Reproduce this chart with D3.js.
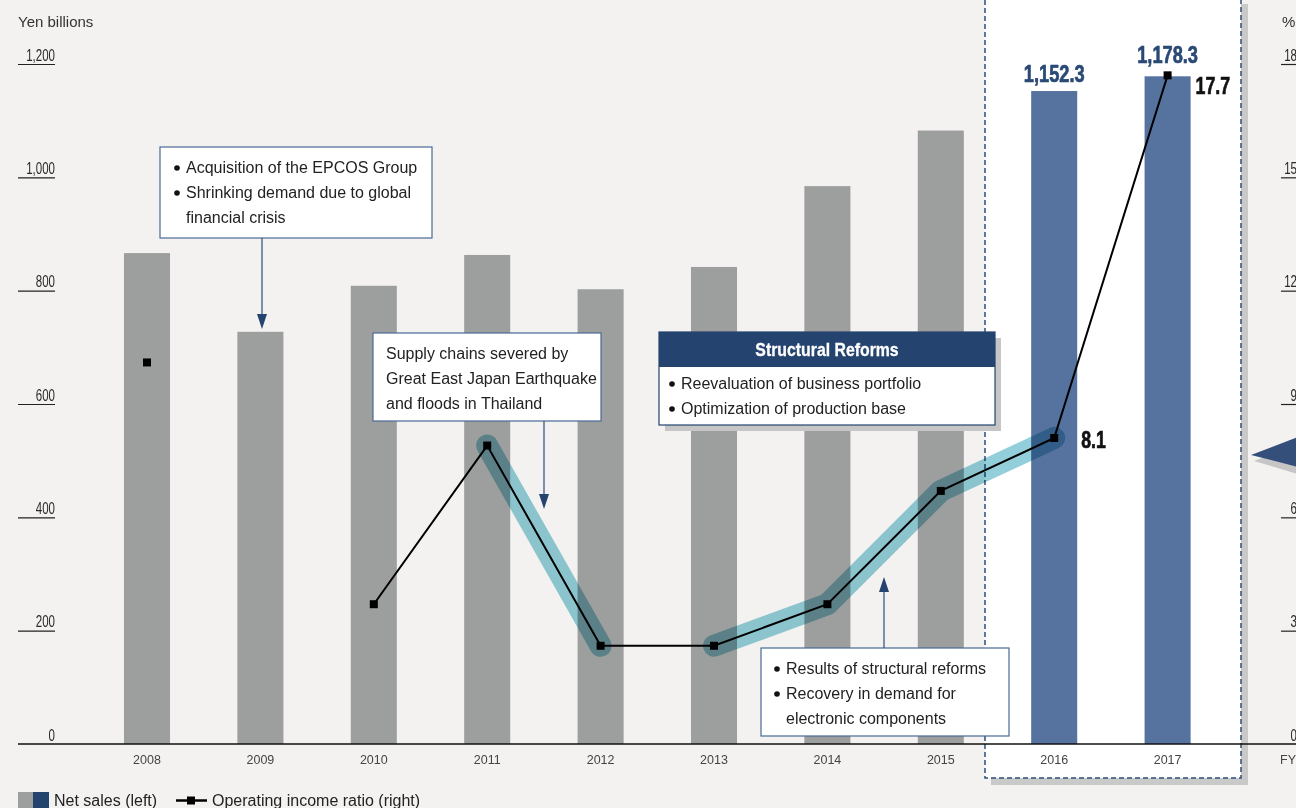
<!DOCTYPE html>
<html><head><meta charset="utf-8">
<script src="https://cdn.jsdelivr.net/npm/d3@7"></script>
<style>
html,body{margin:0;padding:0;background:#f3f2f0;}
svg{display:block;}
text{font-family:"Liberation Sans",Arial,sans-serif;}
</style></head>
<body>
<svg id="chart" width="1296" height="808"></svg>
<script>
// ---- data ----
const years = ["2008","2009","2010","2011","2012","2013","2014","2015","2016","2017"];
const netSales = [866.3, 727.4, 808.6, 863.0, 802.5, 841.8, 984.5, 1082.6, 1152.3, 1178.3];
const opRatio = [10.1, null, 3.7, 7.9, 2.6, 2.6, 3.7, 6.7, 8.1, 17.7];
const highlightedYears = ["2016","2017"];
const salesLabels = [{year:"2016", text:"1,152.3"}, {year:"2017", text:"1,178.3"}];
const ratioLabels = [{year:"2016", text:"8.1"}, {year:"2017", text:"17.7"}];
const trendA = ["2011","2012"];
const trendB = ["2013","2014","2015","2016"];
const leftTicks = [0,200,400,600,800,1000,1200];
const rightTicks = [0,3,6,9,12,15,18];

const svg = d3.select("#chart");
const W = 1296, H = 808;
svg.append("rect").attr("width",W).attr("height",H).attr("fill","#f3f2f0");

const x = d3.scaleBand().domain(years).range([90.3,1224.3]).paddingInner(0.594).paddingOuter(0.297);
const yL = d3.scaleLinear().domain([0,1200]).range([744,64]);
const yR = d3.scaleLinear().domain([0,18]).range([744,64]);
const cx = y => x(y) + x.bandwidth()/2;
const ratioOf = y => opRatio[years.indexOf(y)];

// ---- highlighted FY2016-2017 panel ----
const hx0 = 985, hx1 = 1241, hy1 = 778;
svg.append("rect").attr("x",hx1).attr("y",4).attr("width",7).attr("height",hy1+7-4).attr("fill","#c9c9c9");
svg.append("rect").attr("x",hx0+6).attr("y",hy1).attr("width",hx1-hx0+1).attr("height",7).attr("fill","#c9c9c9");
svg.append("rect").attr("x",hx0).attr("y",-5).attr("width",hx1-hx0).attr("height",hy1+5).attr("fill","#ffffff");
svg.append("path").attr("d",`M${hx0},0V${hy1}H${hx1}V0`).attr("fill","none")
  .attr("stroke","#2c4f7c").attr("stroke-width",1.5).attr("stroke-dasharray","5,3");

// ---- left axis ----
const axL = d3.axisRight(yL).tickValues(leftTicks).tickSize(37).tickFormat(d3.format(","));
const gL = svg.append("g").attr("transform","translate(18,0)").call(axL);
gL.select(".domain").remove();
gL.selectAll(".tick line").attr("stroke","#222").attr("stroke-width",1.2);
gL.selectAll(".tick text").attr("x",0).attr("dy",0).attr("text-anchor","end")
  .attr("transform","translate(37,-4) scale(0.72,1)")
  .attr("font-size",16).attr("fill","#2a2a2a");
gL.selectAll(".tick").filter(d=>d===0).select("line").remove();

// ---- right axis ----
const axR = d3.axisLeft(yR).tickValues(rightTicks).tickSize(19);
const gR = svg.append("g").attr("transform","translate(1300,0)").call(axR);
gR.select(".domain").remove();
gR.selectAll(".tick line").attr("stroke","#222").attr("stroke-width",1.2);
gR.selectAll(".tick text").attr("x",0).attr("dy",0).attr("text-anchor","end")
  .attr("transform","translate(-3,-4) scale(0.72,1)")
  .attr("font-size",16).attr("fill","#2a2a2a");
gR.selectAll(".tick").filter(d=>d===0).select("line").remove();

svg.append("text").attr("x",18).attr("y",27).attr("font-size",15).attr("fill","#333").text("Yen billions");
svg.append("text").attr("x",1282).attr("y",27).attr("font-size",15).attr("fill","#333").text("%");

// ---- bars ----
svg.append("g").selectAll("rect").data(years).join("rect")
  .attr("x",d=>x(d)).attr("width",x.bandwidth())
  .attr("y",(d,i)=>yL(netSales[i])).attr("height",(d,i)=>yL(0)-yL(netSales[i]))
  .attr("fill",d=>highlightedYears.includes(d)?"#5673a0":"#9d9e9e");

// ---- baseline & x axis ----
svg.append("line").attr("x1",18).attr("x2",1296).attr("y1",744).attr("y2",744).attr("stroke","#111").attr("stroke-width",1.5);
const axB = d3.axisBottom(x).tickSize(0);
const gB = svg.append("g").attr("transform","translate(0,744)").call(axB);
gB.select(".domain").remove();
gB.selectAll(".tick text").attr("y",20).attr("dy",0).attr("font-size",12.5).attr("fill","#444");
svg.append("text").attr("x",1280).attr("y",764).attr("font-size",12.5).attr("fill","#444").text("FY");

// ---- trend highlight bands ----
const hl = d3.line().x(d=>cx(d)).y(d=>yR(ratioOf(d)));
[trendA, trendB].forEach(seg=>{
  svg.append("path").attr("d",hl(seg)).attr("fill","none").attr("stroke","#93cfdb")
    .attr("stroke-width",22).attr("stroke-linecap","round").attr("stroke-linejoin","round")
    .style("mix-blend-mode","multiply");
});

// ---- operating income ratio line ----
const pts = years.map((y,i)=>({y, v:opRatio[i]}));
const line = d3.line().defined(d=>d.v!=null).x(d=>cx(d.y)).y(d=>yR(d.v));
svg.append("path").attr("d",line(pts)).attr("fill","none").attr("stroke","#000").attr("stroke-width",2);
svg.append("g").selectAll("rect").data(pts.filter(d=>d.v!=null)).join("rect")
  .attr("x",d=>cx(d.y)-4).attr("y",d=>yR(d.v)-4).attr("width",8).attr("height",8).attr("fill","#000");

// ---- value labels (condensed bold) ----
svg.append("g").selectAll("text").data(salesLabels).join("text")
  .attr("transform",d=>`translate(${cx(d.year)},${yL(netSales[years.indexOf(d.year)]) - (d.year==="2017"?13:9)}) scale(0.76,1)`)
  .attr("text-anchor","middle").attr("font-size",24).attr("font-weight",700)
  .attr("fill","#2a4a75").attr("stroke","#2a4a75").attr("stroke-width",0.7).text(d=>d.text);
svg.append("g").selectAll("text").data(ratioLabels).join("text")
  .attr("transform",d=>`translate(${cx(d.year)+(d.year==="2017"?28:27)},${yR(ratioOf(d.year)) + (d.year==="2017"?19:10)}) scale(0.74,1)`)
  .attr("font-size",24).attr("font-weight",700)
  .attr("fill","#111").attr("stroke","#111").attr("stroke-width",0.7).text(d=>d.text);

// ---- annotations ----
function box(x0,y0,w,h){
  svg.append("rect").attr("x",x0).attr("y",y0).attr("width",w).attr("height",h)
    .attr("fill","#fff").attr("stroke","#4a6a95").attr("stroke-width",1.2);
}
function lines(x0, ys, arr, bulletX){
  arr.forEach((t,i)=>{
    if(t.b) svg.append("circle").attr("cx",bulletX).attr("cy",ys[i]-5).attr("r",2.8).attr("fill","#111");
    svg.append("text").attr("x",x0).attr("y",ys[i]).attr("font-size",16).attr("fill","#222").text(t.t);
  });
}
function arrow(xa, yFrom, yTip){
  const dir = yTip > yFrom ? 1 : -1;
  svg.append("line").attr("x1",xa).attr("x2",xa).attr("y1",yFrom).attr("y2",yTip-dir*12).attr("stroke","#3d5a85").attr("stroke-width",1.3);
  svg.append("path").attr("d",`M${xa-5},${yTip-dir*15}L${xa+5},${yTip-dir*15}L${xa},${yTip}Z`).attr("fill","#24436e");
}

box(160,147,272,91);
lines(186,[173,198,223],[{t:"Acquisition of the EPCOS Group",b:1},{t:"Shrinking demand due to global",b:1},{t:"financial crisis"}],177);
arrow(262,238,329);

box(373,333,228,88);
lines(386,[359,384,409],[{t:"Supply chains severed by"},{t:"Great East Japan Earthquake"},{t:"and floods in Thailand"}],0);
arrow(544,421,509);

// Structural Reforms
svg.append("rect").attr("x",665).attr("y",338).attr("width",336).attr("height",93).attr("fill","#c6c6c6");
svg.append("rect").attr("x",659).attr("y",332).attr("width",336).attr("height",93).attr("fill","#fff").attr("stroke","#24436e").attr("stroke-width",1.2);
svg.append("rect").attr("x",659).attr("y",332).attr("width",336).attr("height",35).attr("fill","#24436e");
svg.append("text").attr("transform","translate(827,356) scale(0.88,1)").attr("text-anchor","middle")
  .attr("font-size",18).attr("font-weight",700).attr("fill","#fff").attr("stroke","#fff").attr("stroke-width",0.3).text("Structural Reforms");
lines(681,[389,414],[{t:"Reevaluation of business portfolio",b:1},{t:"Optimization of production base",b:1}],672);

box(761,648,248,88);
lines(786,[674,699,724],[{t:"Results of structural reforms",b:1},{t:"Recovery in demand for",b:1},{t:"electronic components"}],777);
arrow(884,648,577);

// big pointer at right edge
svg.append("path").attr("d","M1254,461L1298,444L1298,474Z").attr("fill","#c6c6c6");
svg.append("path").attr("d","M1251,455L1298,437L1298,467Z").attr("fill","#34507a");

// ---- legend ----
svg.append("rect").attr("x",18).attr("y",792).attr("width",16).attr("height",16).attr("fill","#9d9e9e");
svg.append("rect").attr("x",33).attr("y",792).attr("width",16).attr("height",16).attr("fill","#244470");
svg.append("text").attr("x",54).attr("y",806).attr("font-size",16).attr("fill","#222").text("Net sales (left)");
svg.append("line").attr("x1",176).attr("x2",207).attr("y1",800.5).attr("y2",800.5).attr("stroke","#000").attr("stroke-width",2.5);
svg.append("rect").attr("x",187).attr("y",796.5).attr("width",8).attr("height",8).attr("fill","#000");
svg.append("text").attr("x",212).attr("y",806).attr("font-size",16).attr("fill","#222").text("Operating income ratio (right)");
</script>
</body></html>
